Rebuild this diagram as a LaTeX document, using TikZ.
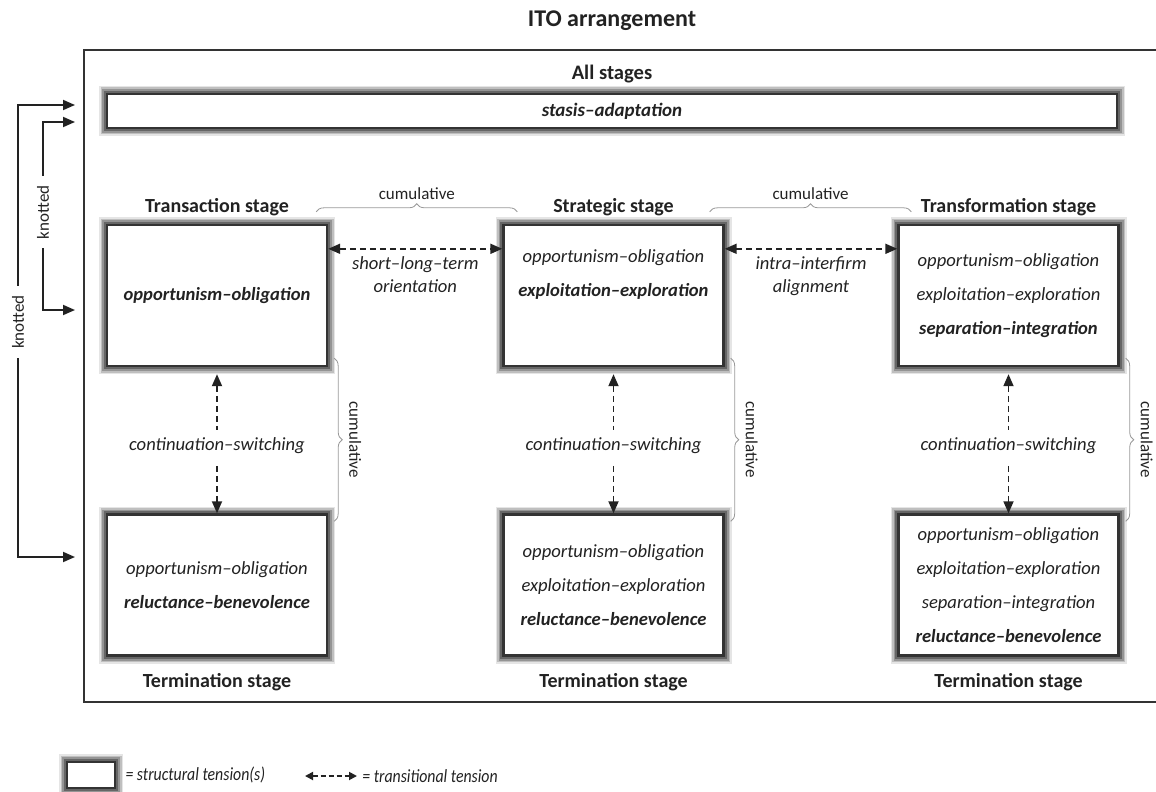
\documentclass[tikz,border=0pt]{standalone}
\usepackage{fontspec}
\setmainfont{Carlito}
\usepackage{xcolor}
\usepackage{tikz}
\usetikzlibrary{calc, positioning, arrows.meta, decorations.pathreplacing}

\definecolor{ink}{HTML}{222222}
\definecolor{rim}{HTML}{333333}

\begin{document}
\begin{tikzpicture}[x=0.5pt, y=-0.5pt, >={Triangle[length=6pt,width=5pt]},
    every node/.append style={text=ink},
    tenbox/.style={draw=rim, line width=1.2pt, fill=white, inner sep=0pt,
        preaction={draw=black!10, line width=8pt},
        preaction={draw=black!25, line width=6.5pt},
        preaction={draw=black!42, line width=5pt},
        preaction={draw=black!60, line width=3.4pt}},
    stagebox/.style={tenbox, minimum width=110pt, minimum height=70.5pt, align=center,
        font=\fontsize{9.3}{17}\selectfont\itshape},
    stagelab/.style={font=\fontsize{10}{12}\selectfont\bfseries, inner sep=0pt},
    trans/.style={<->, dash pattern=on 3pt off 2pt, line width=0.9pt, draw=ink},
    translab/.style={font=\fontsize{9.3}{11.5}\selectfont\itshape, align=center, inner sep=0pt},
    cumbrace/.style={draw=black!40, line width=0.4pt, decorate, decoration={brace, amplitude=4pt}},
    cumlab/.style={font=\fontsize{8.5}{10}\selectfont, inner sep=0pt},
    knot/.style={<->, line width=0.9pt, draw=ink},
    knotlab/.style={font=\fontsize{8.5}{10}\selectfont, fill=white, rotate=90,
        inner xsep=4.5pt, inner ysep=1pt},
    leglab/.style={font=\fontsize{9.3}{11}\selectfont\itshape, xscale=.85, inner sep=0pt}
]
    \useasboundingbox (0,0) rectangle (1156,792);

    % title and frame
    \node[anchor=base, font=\fontsize{12}{14}\selectfont\bfseries] (title) at (612,27) {ITO arrangement};
    \draw[draw=rim, line width=0.9pt] (1156,50) -- (84,50) -- (84,702) -- (1156,702);

    % all stages
    \node[stagelab, anchor=base, font=\fontsize{10.3}{12}\selectfont\bfseries] (all) at (612,80) {All stages};
    \node[tenbox, minimum width=505pt, minimum height=17pt,
        font=\fontsize{9.5}{11}\selectfont\bfseries\itshape] (stasis) at (612,111) {stasis–adaptation};

    % stage boxes
    \node[stagebox] (tbox) at (217,295.5) {\textbf{opportunism–obligation}};
    \node[stagebox] (sbox) at (613.5,295.5) {opportunism–obligation\\\textbf{exploitation–exploration}\\\strut};
    \node[stagebox] (fbox) at (1008.5,295.5) {opportunism–obligation\\exploitation–exploration\\\textbf{separation–integration}};

    \node[stagebox] (ttbox) at (217,585) {opportunism–obligation\\\textbf{reluctance–benevolence}};
    \node[stagebox] (stbox) at (613.5,585) {opportunism–obligation\\exploitation–exploration\\\textbf{reluctance–benevolence}};
    \node[stagebox] (ftbox) at (1008.5,585) {opportunism–obligation\\exploitation–exploration\\separation–integration\\\textbf{reluctance–benevolence}};

    \node[stagelab, above=4pt of tbox] (tlab) {Transaction stage};
    \node[stagelab, above=4pt of sbox] (slab) {Strategic stage};
    \node[stagelab, above=4pt of fbox] (flab) {Transformation stage};
    \node[stagelab, below=8pt of ttbox] (ttlab) {Termination stage};
    \node[stagelab, below=8pt of stbox] (stlab) {Termination stage};
    \node[stagelab, below=8pt of ftbox] (ftlab) {Termination stage};

    % transitional tensions
    \draw[trans] ([yshift=-12.5pt]tbox.north east) -- node[below=3.5pt, translab] {short–long–term\\orientation} ([yshift=-12.5pt]sbox.north west);
    \draw[trans] ([yshift=-12.5pt]sbox.north east) -- node[below=3.5pt, translab] {intra–interfirm\\alignment} ([yshift=-12.5pt]fbox.north west);

    \draw[trans, shorten <=3.5pt] (tbox) -- node[pos=.54, translab, fill=white, inner ysep=4pt] {continuation–switching} (ttbox);
    \draw[trans, shorten <=3.5pt] (sbox) -- node[pos=.54, translab, fill=white, inner ysep=4pt] {continuation–switching} (stbox);
    \draw[trans, shorten <=3.5pt] (fbox) -- node[pos=.54, translab, fill=white, inner ysep=4pt] {continuation–switching} (ftbox);

    % cumulative braces
    \draw[cumbrace] ([xshift=-6pt,yshift=6pt]tbox.north east) -- node[midway, above=6pt, cumlab] {cumulative} ([xshift=7.5pt,yshift=6pt]sbox.north west);
    \draw[cumbrace] ([xshift=-7.5pt,yshift=6pt]sbox.north east) -- node[midway, above=6pt, cumlab] {cumulative} ([xshift=7pt,yshift=6pt]fbox.north west);

    \foreach \up/\dn in {tbox/ttbox, sbox/stbox, fbox/ftbox}
        \draw[cumbrace] ([xshift=3pt,yshift=4.5pt]\up.south east) -- node[midway, xshift=10.5pt, rotate=-90, cumlab] {cumulative} ([xshift=3pt,yshift=-4pt]\dn.north east);

    % knotted
    \coordinate (ka) at (75,105);
    \coordinate (kb) at (75,557);
    \coordinate (kc) at (75,122);
    \coordinate (kd) at (75,310);
    \draw[knot] (ka) -- ++(-57,0) |- node[pos=.24, knotlab] {knotted} (kb);
    \draw[knot] (kc) -- ++(-32,0) |- node[pos=.24, knotlab] {knotted} (kd);

    % legend
    \node[tenbox, minimum width=24pt, minimum height=13pt] (legbox) at (91,775) {};
    \node[right=4.5pt of legbox, leglab] (legboxlab) {= structural tension(s)};
    \coordinate (la) at (305,776);
    \coordinate (lb) at (357,776);
    \draw[trans, >={Triangle[length=4pt,width=4pt]}, dash pattern=on 2.5pt off 1.5pt] (la) -- (lb);
    \node[right=2.5pt of lb, leglab] (lablab) {= transitional tension};
\end{tikzpicture}
\end{document}
